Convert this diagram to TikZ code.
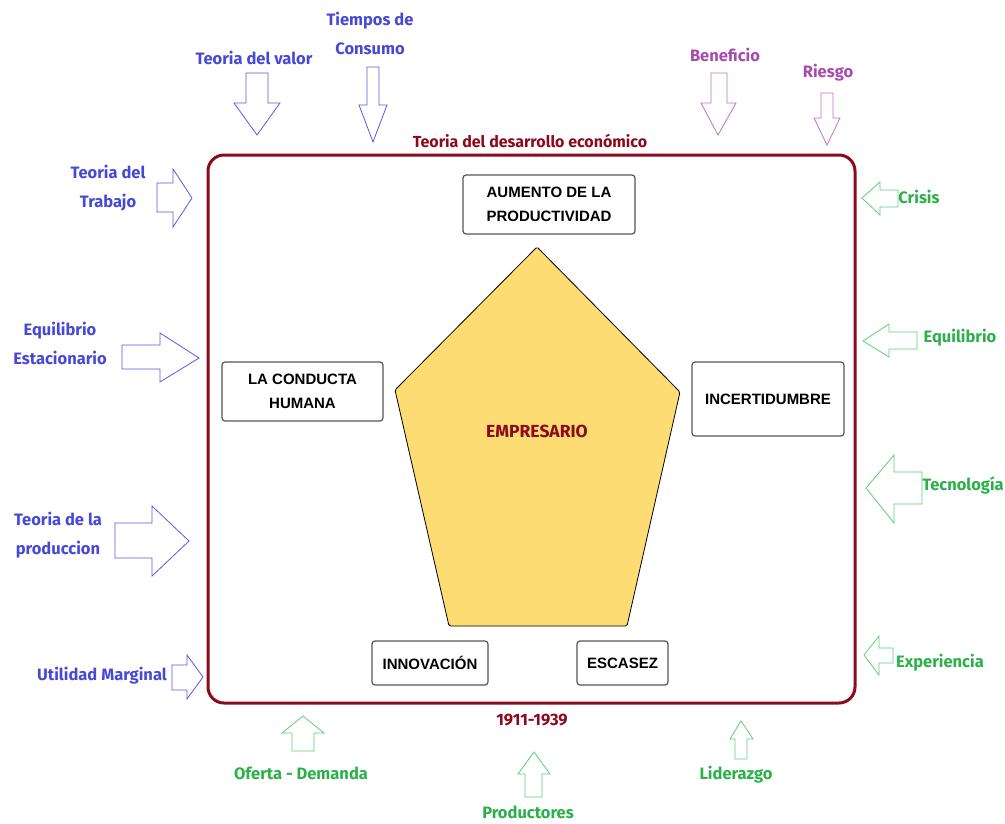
\documentclass[tikz,border=0pt]{standalone}
\usepackage{fontspec}
\setmainfont{Fira Sans}
\newfontfamily\boxfont{Liberation Sans}
\newfontfamily\labfont{Fira Sans}
\definecolor{frameRed}{HTML}{8B0A1E}
\definecolor{labBlue}{HTML}{4848D8}
\definecolor{arrBlue}{HTML}{5A5AE6}
\definecolor{labPurple}{HTML}{A84AAE}
\definecolor{arrPurple}{HTML}{C070C8}
\definecolor{labGreen}{HTML}{2CB14A}
\definecolor{arrGreen}{HTML}{5CCF78}
\definecolor{pentFill}{HTML}{FEDC74}
\definecolor{boxEdge}{HTML}{555555}
\tikzset{
  lab/.style={font=\labfont\bfseries\fontsize{16.5}{29}\selectfont, align=center, inner sep=0pt},
  bluelab/.style={lab, text=labBlue},
  purplelab/.style={lab, text=labPurple},
  greenlab/.style={lab, text=labGreen},
  redlab/.style={lab, text=frameRed},
  blockarr/.style={line width=0.8pt, fill=white, line join=miter},
  bluearr/.style={blockarr, draw=arrBlue},
  purplearr/.style={blockarr, draw=arrPurple},
  greenarr/.style={blockarr, draw=arrGreen},
  conceptbox/.style={draw=boxEdge, line width=1.2pt, rounded corners=3pt, fill=white,
    font=\boxfont\bfseries\fontsize{15}{24}\selectfont, align=center, inner sep=0pt},
}
\begin{document}
\begin{tikzpicture}[x=1pt, y=-1pt]
\useasboundingbox[fill=white] (0,0) rectangle (1005,823);

% outer frame
\draw[frameRed, line width=3pt, rounded corners=16pt] (208,155) rectangle (855,703);
\node[redlab, font=\labfont\bfseries\fontsize{16}{20}\selectfont] (title) at (530,141) {Teoria del desarrollo económico};
\node[redlab] (years) at (532,720) {1911-1939};

% central pentagon
\draw[fill=pentFill, draw=black, line width=0.8pt, rounded corners=1.5pt]
  (537,247) -- (680,392) -- (627,626) -- (449,626) -- (395,390) -- cycle;
\node[redlab, font=\labfont\bfseries\fontsize{17.5}{20}\selectfont] (emp) at (537,431) {EMPRESARIO};

% concept boxes
\node[conceptbox, minimum width=172pt, minimum height=59pt] (prod) at (549,204.5) {AUMENTO DE LA\\PRODUCTIVIDAD};
\node[conceptbox, minimum width=161pt, minimum height=59pt] (cond) at (302.5,391.5) {LA CONDUCTA\\HUMANA};
\node[conceptbox, minimum width=152pt, minimum height=74pt] (inc) at (768,399) {INCERTIDUMBRE};
\node[conceptbox, minimum width=116pt, minimum height=44pt] (inn) at (430,663) {INNOVACIÓN};
\node[conceptbox, minimum width=91pt, minimum height=44pt] (esc) at (622.5,663) {ESCASEZ};

% top arrows
\node[bluelab] (valor) at (254,58) {Teoria del valor};
\draw[bluearr] (246,73) -- (268,73) -- (268,103) -- (280,103) -- (257,135) -- (234,103) -- (246,103) -- cycle;
\node[bluelab] (consumo) at (370,33) {Tiempos de\\Consumo};
\draw[bluearr] (367,67) -- (379,67) -- (379,105) -- (387,105) -- (373,142) -- (359,105) -- (367,105) -- cycle;
\node[purplelab] (benef) at (725,55) {Beneficio};
\draw[purplearr] (711,73) -- (727,73) -- (727,103) -- (736,103) -- (718,135) -- (701,103) -- (711,103) -- cycle;
\node[purplelab] (riesgo) at (828,73) {Riesgo};
\draw[purplearr] (821,93) -- (833,93) -- (833,118) -- (840,118) -- (827,145) -- (814,118) -- (821,118) -- cycle;

% left arrows
\node[bluelab] (trabajo) at (108,188) {Teoria del\\Trabajo};
\draw[bluearr] (157,183) -- (173,183) -- (173,169) -- (192,198) -- (173,227) -- (173,212) -- (157,212) -- cycle;
\node[bluelab] (estac) at (60,343) {Equilibrio\\Estacionario};
\draw[bluearr] (122,345) -- (160,345) -- (160,333) -- (199,358) -- (160,382) -- (160,369) -- (122,369) -- cycle;
\node[bluelab] (produc) at (58,535) {Teoria de la\\produccion};
\draw[bluearr] (115,523) -- (152,523) -- (152,506) -- (189,541) -- (152,576) -- (152,558) -- (115,558) -- cycle;
\node[bluelab] (util) at (102,676) {Utilidad Marginal};
\draw[bluearr] (172,665) -- (187,665) -- (187,655) -- (203,677) -- (187,699) -- (187,690) -- (172,690) -- cycle;

% right arrows
\node[greenlab] (crisis) at (919,197) {Crisis};
\draw[greenarr] (898,190) -- (880,190) -- (880,182) -- (862,198) -- (880,215) -- (880,207) -- (898,207) -- cycle;
\node[greenlab] (equil) at (960,338) {Equilibrio};
\draw[greenarr] (917,332) -- (889,332) -- (889,324) -- (863,341) -- (889,357) -- (889,349) -- (917,349) -- cycle;
\node[greenlab] (tecno) at (963,485) {Tecnología};
\draw[greenarr] (922,472) -- (894,472) -- (894,455) -- (866,488) -- (894,523) -- (894,504) -- (922,504) -- cycle;
\node[greenlab] (exper) at (940,663) {Experiencia};
\draw[greenarr] (893,648) -- (879,648) -- (879,636) -- (864,655) -- (879,675) -- (879,663) -- (893,663) -- cycle;

% bottom arrows
\node[greenlab] (oferta) at (301,773) {Oferta - Demanda};
\draw[greenarr] (292,751) -- (292,733) -- (282,733) -- (303,716) -- (324,733) -- (314,733) -- (314,751) -- cycle;
\node[greenlab] (productores) at (528,812) {Productores};
\draw[greenarr] (525,797) -- (525,774) -- (518,774) -- (534,752) -- (550,774) -- (542,774) -- (542,797) -- cycle;
\node[greenlab] (lider) at (736,775) {Liderazgo};
\draw[greenarr] (735,759) -- (735,739) -- (730,739) -- (741,721) -- (753,739) -- (747,739) -- (747,759) -- cycle;
\end{tikzpicture}
\end{document}
